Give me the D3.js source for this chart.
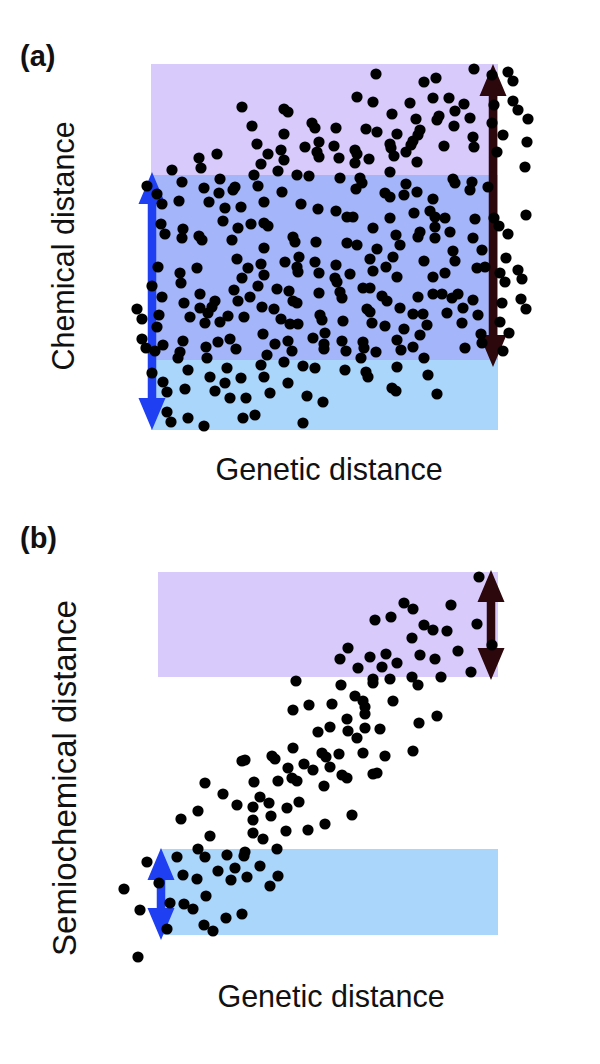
<!DOCTYPE html>
<html><head><meta charset="utf-8">
<script src="https://cdn.jsdelivr.net/npm/d3@7"></script>
<style>html,body{margin:0;padding:0;background:#fff}</style>
</head><body><div id="chart"></div>
<script>
// Panel (a): genetic distance (x) vs chemical distance (y), arbitrary units
const pointsA = [
[91,323],[133,321],[137,318],[101,304],[133,296],[161,307],[164,302],[168,288],[154,283],[106,286],
[117,276],[130,280],[133,270],[166,278],[168,273],[66,276],[48,272],[50,262],[110,266],[127,259],
[21,260],[103,255],[146,255],[158,254],[31,248],[69,251],[-4,244],[6,236],[11,226],[53,242],
[84,243],[82,240],[107,244],[68,237],[131,238],[28,229],[58,228],[74,222],[90,223],[113,228],
[150,226],[167,221],[10,206],[14,196],[32,201],[31,192],[48,194],[51,190],[72,209],[87,202],
[100,206],[113,207],[117,204],[81,190],[142,193],[144,188],[165,188],
[113,182],[86,171],[7,163],[29,157],[30,147],[46,162],[97,162],[110,166],[113,155],[134,168],
[148,173],[146,163],[147,158],[164,168],[168,157],[1,144],[91,152],[83,140],[87,129],[107,144],
[126,141],[138,139],[142,129],[146,127],[168,137],[11,133],[49,136],[99,133],[33,127],[64,129],
[61,123],[49,122],[57,117],[-14,121],[-9,111],[8,115],[6,103],[39,113],[54,107],[69,108],
[77,114],[93,113],[111,123],[123,121],[130,111],[139,106],[147,106],[169,115],[171,110],[-9,91],
[-5,82],[4,79],[12,85],[32,89],[29,78],[27,72],[55,83],[56,72],[67,88],[79,91],[85,81],
[112,96],[124,86],[137,89],[141,79],[162,92],[174,97],[173,86],[173,81],[116,75],[133,68],
[110,65],[37,60],[1,57],[76,62],[152,64],[164,62],[59,53],[74,47],[90,52],[113,53],[137,47],
[12,48],[16,38],[34,41],[64,39],[79,32],[95,32],[119,37],[156,34],[172,28],[16,18],[20,8],
[37,12],[53,4],[92,12],[104,15],[152,7],
[225,356],[323,361],[341,355],[357,358],[362,349],[285,352],[273,348],[206,333],[222,328],[259,327],
[282,332],[298,332],[313,326],[304,319],[288,314],[286,310],[319,312],[362,329],[367,320],[343,325],
[241,316],[265,311],[377,311],[185,302],[215,301],[226,298],[246,296],[269,300],[267,295],[303,304],
[341,307],[352,295],[322,293],[323,283],[183,284],[188,272],[204,280],[206,276],[218,271],[239,286],
[240,282],[262,289],[260,285],[293,284],[255,278],[243,274],[204,267],[266,268],[346,278],[376,288],
[374,263],[239,258],[189,252],[209,252],[211,247],[205,241],[302,251],[304,247],[321,248],[319,240],
[337,243],[255,246],[253,235],[266,238],[234,237],[239,233],[282,231],[185,219],[196,213],[202,213],
[239,212],[263,217],[279,219],[284,213],[294,212],[324,211],[343,212],[348,204],[375,215],[222,202],
[245,195],[269,198],[267,193],[284,203],[284,192],[299,198],[322,192],[357,196],[196,187],[206,185],
[226,181],[219,171],[249,185],[242,173],[302,179],[304,169],[331,180],[355,172],[185,165],[184,152],
[186,148],[199,156],[222,159],[235,163],[273,169],[246,153],[282,153],[294,157],[326,162],[334,163],
[349,157],[354,148],[367,160],[371,151],[212,142],[219,142],[189,138],[191,132],[231,134],[236,129],
[267,133],[282,136],[291,136],[301,132],[307,136],[322,130],[351,127],[370,131],[375,121],[216,121],
[219,118],[249,122],[262,116],[272,116],[276,105],[296,117],[312,122],[327,115],[192,109],[221,107],
[234,104],[253,101],[311,107],[349,108],[191,89],[195,79],[212,88],[213,82],[225,78],[210,72],
[246,90],[250,80],[269,95],[262,83],[273,72],[314,82],[330,96],[331,87],[358,97],[352,79],
[194,60],[215,58],[217,53],[246,63],[277,55],[241,42],[245,39],[286,36]
];
// Panel (b): genetic distance (x) vs semiochemical distance (y)
const pointsB = [
[321,358],[246,332],[255,326],[293,330],[233,318],[217,315],[266,310],[275,305],[289,304],[319,311],
[254,297],[334,290],[190,287],[182,276],[212,278],[228,281],[224,268],[239,272],[200,267],[262,280],
[277,276],[300,284],[313,263],[283,258],[254,258],[260,250],[232,256],[215,256],[215,252],[183,250],
[138,254],[197,239],[205,234],[207,228],[207,221],[235,234],[174,231],[151,230],[135,225],[279,219],
[261,212],[189,216],[172,208],[190,204],[207,207],[222,206],[199,197],[160,203],[135,187],[84,174],
[87,175],[114,179],[117,176],[164,182],[168,178],[181,181],[205,182],[227,179],[255,184],[130,167],
[146,171],[155,165],[172,168],[184,160],[189,157],[215,161],[219,162],[47,152],[96,153],[120,154],
[134,157],[139,154],[166,149],[65,141],[102,138],[79,130],[95,128],[111,132],[129,127],[141,133],
[23,116],[40,124],[95,115],[113,119],[194,120],[52,99],[95,102],[105,96],[128,104],[150,105],
[167,111],[40,86],[47,78],[69,80],[87,83],[86,79],[119,86],[60,64],[77,67],[102,69],
[19,78],[-11,73],[25,60],[39,56],[73,55],[89,58],[120,59],[112,49],[1,52],[-34,46],
[48,39],[12,32],[26,31],[35,26],[-18,25],[68,17],[84,21],[46,10],[55,4],[9,6],[-20,-22]
];
// Bands: extents in data units
const bandsA = [
  {name:"purple", x:[0,347], y:[70,366]},
  {name:"blue", x:[0,347], y:[0,255]}
];
const bandsB = [
  {name:"purple", x:[0,340], y:[258,363]},
  {name:"blue", x:[2,340], y:[0,86]}
];
// Arrows: x position and range in data units
const arrowsA = [
  {x:1, y:[0,258], color:"blue"},
  {x:342, y:[63,366], color:"dark"}
];
const arrowsB = [
  {x:3, y:[-5,87], color:"blue"},
  {x:333, y:[255,365], color:"dark"}
];
const labels = {a:"(a)", b:"(b)", xA:"Genetic distance", yA:"Chemical distance", xB:"Genetic distance", yB:"Semiochemical distance"};

const colors = {purple:"#d9cafc", blue:"#abd6fc", overlap:"#a4b6f9", arrowBlue:"#1f3ff2", arrowDark:"#2c070c"};

const svg = d3.select("#chart").append("svg").attr("width",600).attr("height",1064)
  .style("font-family","'Liberation Sans', Arial, Helvetica, sans-serif");
svg.append("rect").attr("width",600).attr("height",1064).attr("fill","#fff");

function panel(points, bands, arrows, xr, yr, xdom, ydom) {
  const x = d3.scaleLinear().domain(xdom).range(xr);
  const y = d3.scaleLinear().domain(ydom).range(yr);
  const g = svg.append("g");
  bands.forEach(b => {
    g.append("rect").attr("x", x(b.x[0])).attr("width", x(b.x[1]) - x(b.x[0]))
      .attr("y", y(b.y[1])).attr("height", y(b.y[0]) - y(b.y[1]))
      .attr("fill", colors[b.name]);
  });
  if (bands.length === 2) {
    const lo = Math.max(bands[0].y[0], bands[1].y[0]);
    const hi = Math.min(bands[0].y[1], bands[1].y[1]);
    if (hi > lo) {
      const x0 = Math.max(bands[0].x[0], bands[1].x[0]);
      const x1 = Math.min(bands[0].x[1], bands[1].x[1]);
      g.append("rect").attr("x", x(x0)).attr("width", x(x1) - x(x0))
        .attr("y", y(hi)).attr("height", y(lo) - y(hi)).attr("fill", colors.overlap);
    }
  }
  const headH = 32, headW = 27, shaft = 8.5;
  arrows.forEach(a => {
    const cx = x(a.x), top = y(a.y[1]), bot = y(a.y[0]);
    const p = d3.path();
    p.moveTo(cx, top);
    p.lineTo(cx + headW/2, top + headH);
    p.lineTo(cx + shaft/2, top + headH);
    p.lineTo(cx + shaft/2, bot - headH);
    p.lineTo(cx + headW/2, bot - headH);
    p.lineTo(cx, bot);
    p.lineTo(cx - headW/2, bot - headH);
    p.lineTo(cx - shaft/2, bot - headH);
    p.lineTo(cx - shaft/2, top + headH);
    p.lineTo(cx - headW/2, top + headH);
    p.closePath();
    g.append("path").attr("d", p.toString())
      .attr("fill", a.color === "blue" ? colors.arrowBlue : colors.arrowDark);
  });
  g.selectAll("circle.pt").data(points).join("circle").attr("class","pt")
    .attr("cx", d => x(d[0])).attr("cy", d => y(d[1])).attr("r", 5.6).attr("fill", "#000");
}

panel(pointsA, bandsA, arrowsA, [151,498], [430,64], [0,347], [0,366]);
panel(pointsB, bandsB, arrowsB, [158,498], [935,572], [0,340], [0,363]);

svg.append("text").attr("x",20).attr("y",66).attr("font-size",29).attr("font-weight","bold").attr("fill","#111").text(labels.a);
svg.append("text").attr("x",20).attr("y",548).attr("font-size",29).attr("font-weight","bold").attr("fill","#111").text(labels.b);
svg.append("text").attr("x",329).attr("y",480).attr("text-anchor","middle").attr("font-size",30.5).attr("fill","#111").text(labels.xA);
svg.append("text").attr("x",331).attr("y",1007).attr("text-anchor","middle").attr("font-size",30.5).attr("fill","#111").text(labels.xB);
svg.append("text").attr("transform","translate(74,246) rotate(-90)").attr("text-anchor","middle").attr("font-size",30.5).attr("fill","#111").text(labels.yA);
svg.append("text").attr("transform","translate(76,778) rotate(-90)").attr("text-anchor","middle").attr("font-size",33).attr("fill","#111").text(labels.yB);
</script></body></html>
